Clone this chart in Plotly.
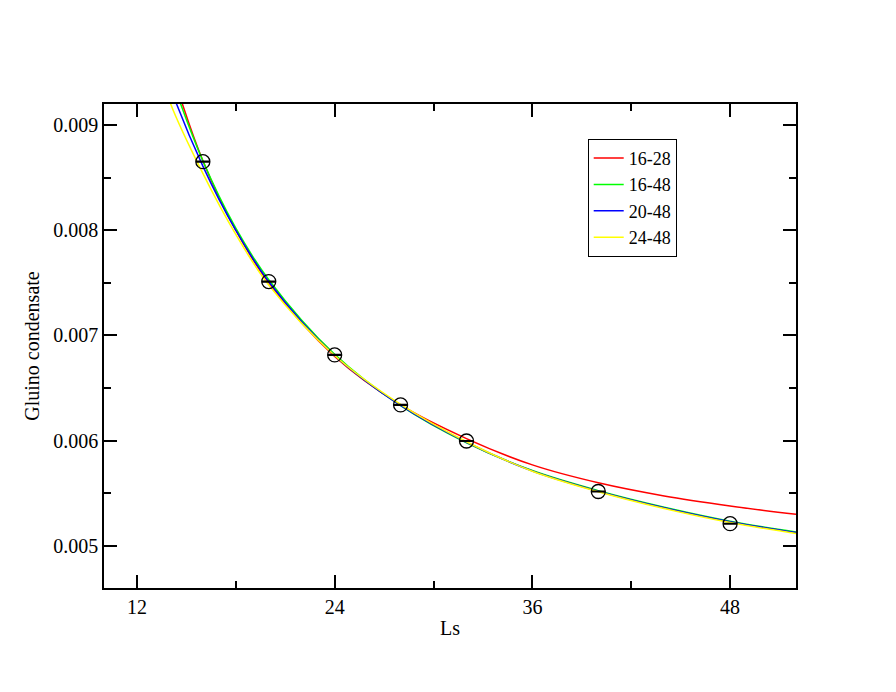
import plotly.graph_objs as go

# measured points
ls_points = [16, 20, 24, 28, 32, 40, 48]
condensate = [0.008652, 0.007512, 0.006815, 0.00634, 0.005997, 0.005517, 0.005211]
condensate_err = [0.000004, 0.000004, 0.000004, 0.000004, 0.000004, 0.000004, 0.000004]

# fit curves
ls_fit = [13.5, 14, 16, 18, 20, 24, 28, 32, 36, 40, 44, 48, 52]
fit_16_28 = [0.00985, 0.00957, 0.00866, 0.00800, 0.00750, 0.00680, 0.00634, 0.00602, 0.00577,
             0.00560, 0.005475, 0.00538, 0.0053]
fit_16_48 = [0.00974, 0.00949, 0.00866, 0.00802, 0.00753, 0.00682, 0.006333, 0.00598, 0.005716,
             0.005525, 0.005368, 0.005235, 0.005133]
fit_20_48 = [0.00962, 0.00937, 0.00861, 0.00800, 0.00751, 0.00681, 0.006335, 0.005985, 0.005712,
             0.00552, 0.005362, 0.00523, 0.005128]
fit_24_48 = [0.00950, 0.00922, 0.00854, 0.00796, 0.00748, 0.00681, 0.006345, 0.00599, 0.00571,
             0.005515, 0.005355, 0.005222, 0.005118]

fit_names = ['16-28', '16-48', '20-48', '24-48']
fit_colors = ['#ff0000', '#00ff00', '#0000ff', '#ffff00']

data = []
for name, color, vals in zip(fit_names, fit_colors, [fit_16_28, fit_16_48, fit_20_48, fit_24_48]):
    trace = go.Scatter(
        x=ls_fit,
        y=vals,
        name=name,
        mode='lines',
        line=dict(color=color, width=1.5, shape='spline'),
    )
    data.append(trace)

points = go.Scatter(
    x=ls_points,
    y=condensate,
    mode='markers',
    showlegend=False,
    marker=dict(symbol='circle-open', size=14, color='black', line=dict(width=1.3)),
    error_y=dict(type='data', array=condensate_err, width=7, thickness=1.3, color='black'),
)
data.append(points)

font_name = 'Liberation Serif'
tick_font = dict(family=font_name, size=20, color='black')

# page body has an 8px margin, so the figure is a bit smaller than the window
layout = go.Layout(
    width=888,
    height=684,
    margin=dict(l=96, r=100, t=96, b=104),
    paper_bgcolor='white',
    plot_bgcolor='white',
    font=dict(family=font_name, size=20, color='black'),
    showlegend=True,
    legend=dict(
        x=0.699,
        y=0.928,
        xanchor='left',
        yanchor='top',
        bordercolor='black',
        borderwidth=1,
        bgcolor='white',
        font=dict(family=font_name, size=18, color='black'),
        tracegroupgap=0,
        itemwidth=30,
    ),
    xaxis=dict(
        title=dict(text='Ls', standoff=4, font=tick_font),
        range=[10, 52],
        tickvals=[12, 24, 36, 48],
        tickfont=tick_font,
        ticks='inside',
        ticklen=13,
        tickwidth=1.5,
        tickcolor='black',
        minor=dict(tickvals=[18, 30, 42], ticks='inside', ticklen=7, tickwidth=1.5, tickcolor='black'),
        showline=True,
        linecolor='black',
        linewidth=1.5,
        mirror='allticks',
        showgrid=False,
        zeroline=False,
    ),
    yaxis=dict(
        title=dict(text='Gluino condensate', standoff=8, font=tick_font),
        range=[0.0046, 0.0092],
        tickvals=[0.005, 0.006, 0.007, 0.008, 0.009],
        ticktext=['0.005', '0.006', '0.007', '0.008', '0.009'],
        tickfont=tick_font,
        ticks='inside',
        ticklen=13,
        tickwidth=1.5,
        tickcolor='black',
        minor=dict(tickvals=[0.0055, 0.0065, 0.0075, 0.0085], ticks='inside', ticklen=7,
                   tickwidth=1.5, tickcolor='black'),
        showline=True,
        linecolor='black',
        linewidth=1.5,
        mirror='allticks',
        showgrid=False,
        zeroline=False,
    ),
)

fig = go.Figure(data=data, layout=layout)
fig.write_html("out.html")
